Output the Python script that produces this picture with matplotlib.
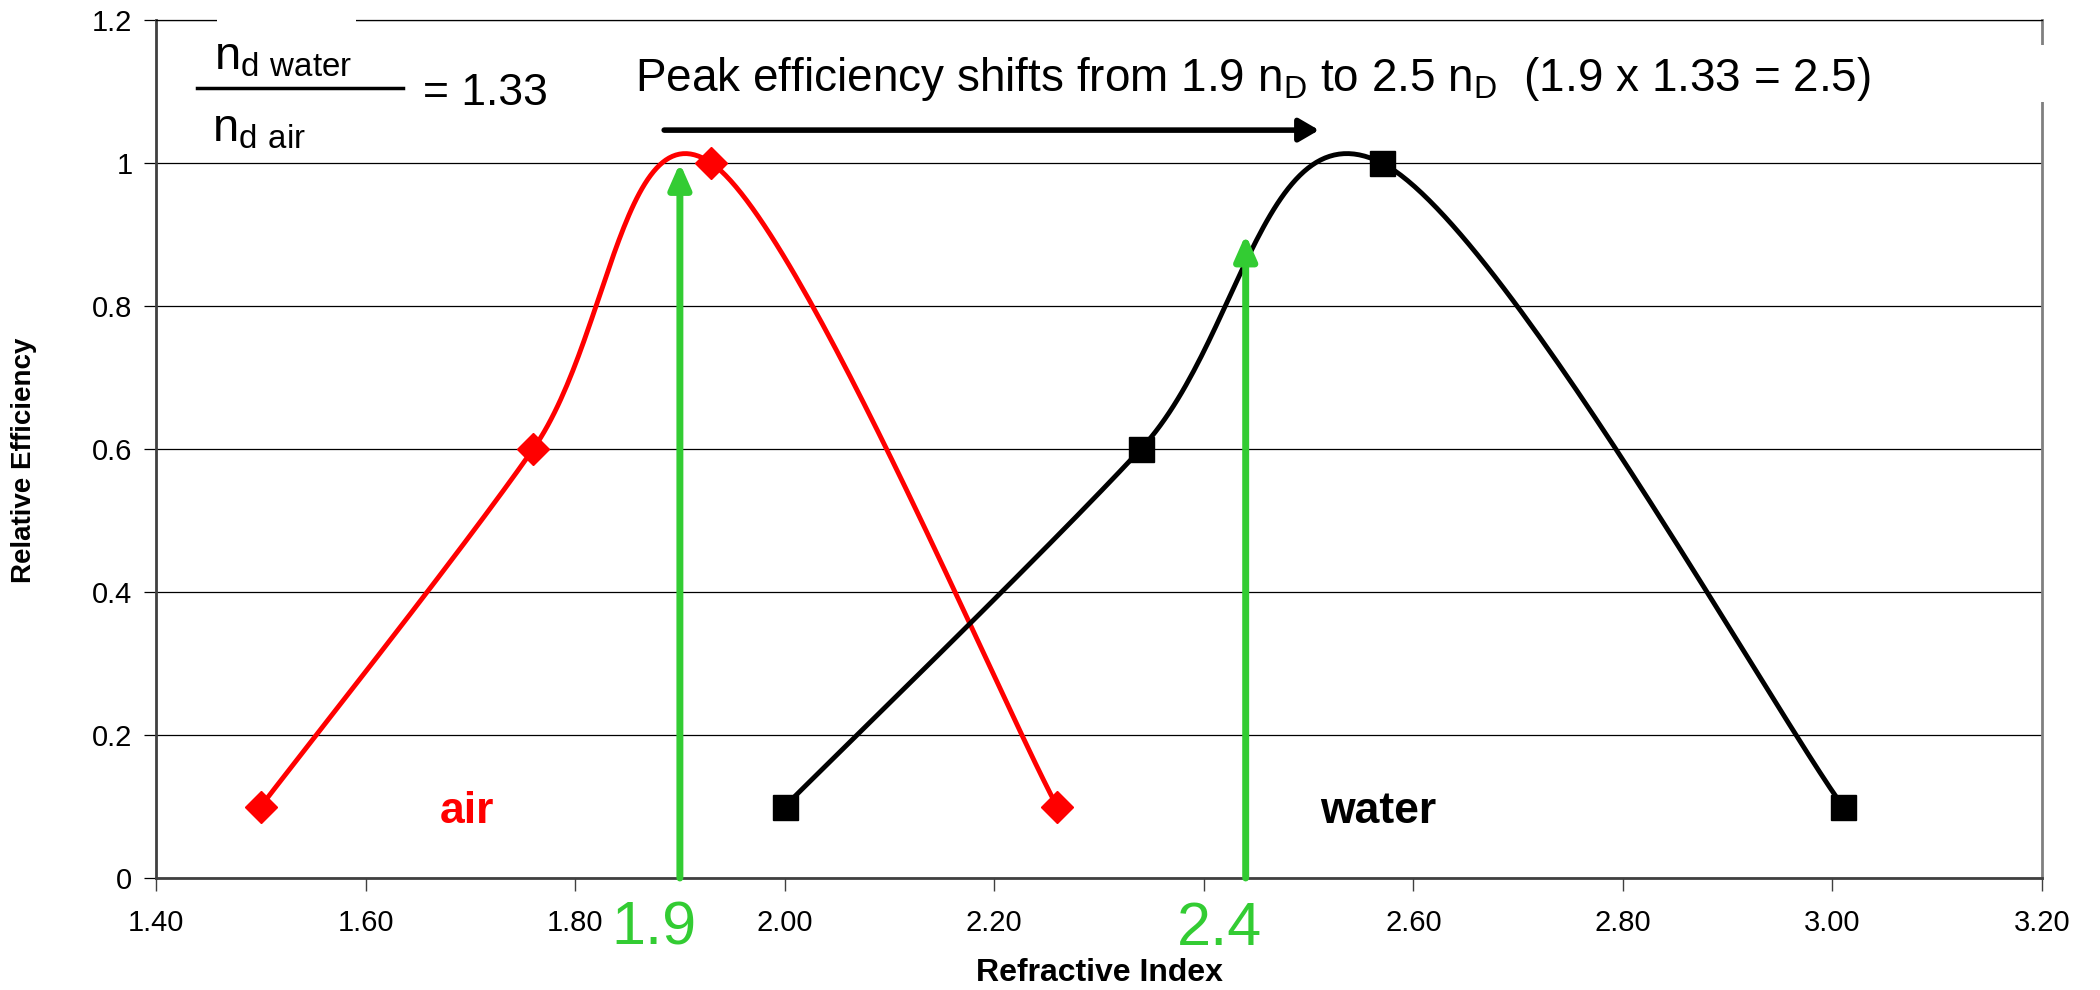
"""
Relative efficiency vs refractive index, air and water curves.
"""
import numpy as np
import matplotlib
matplotlib.use("Agg")
import matplotlib.pyplot as plt
from matplotlib.patches import Rectangle

# Series values
air_x = [1.50, 1.76, 1.93, 2.26]
air_y = [0.1, 0.6, 1.0, 0.1]
water_x = [2.00, 2.34, 2.57, 3.01]
water_y = [0.1, 0.6, 1.0, 0.1]

# Green peak arrows and their labels
peak_x = [1.90, 2.44]
peak_y = [1.0, 0.9]
peak_labels = ["1.9", "2.4"]

x_ticks = [1.40, 1.60, 1.80, 2.00, 2.20, 2.40, 2.60, 2.80, 3.00, 3.20]
x_ticklabels = ["1.40", "1.60", "1.80", "2.00", "2.20", "", "2.60", "2.80", "3.00", "3.20"]	# 2.40 sits under the green "2.4"
y_ticks = [0, 0.2, 0.4, 0.6, 0.8, 1.0, 1.2]
y_ticklabels = ["0", "0.2", "0.4", "0.6", "0.8", "1", "1.2"]

plt.rcParams['font.family'] = ['Liberation Sans', 'DejaVu Sans']
plt.rcParams['mathtext.fontset'] = 'custom'
plt.rcParams['mathtext.rm'] = 'Liberation Sans'


def smooth(xs, ys, n=60):
	"""Excel style smoothed line (Catmull-Rom as cubic Bezier)."""
	p = np.column_stack([xs, ys]).astype(float)
	p = np.vstack([p[0], p, p[-1]])
	t = np.linspace(0, 1, n)[:, None]
	segs = []
	for i in range(1, len(p) - 2):
		p0, p1, p2, p3 = p[i - 1], p[i], p[i + 1], p[i + 2]
		c1 = p1 + (p2 - p0) / 6
		c2 = p2 - (p3 - p1) / 6
		segs.append((1 - t)**3 * p1 + 3 * (1 - t)**2 * t * c1 + 3 * (1 - t) * t**2 * c2 + t**3 * p2)
	return np.vstack(segs)


fig = plt.figure(figsize=(21, 9.9), dpi=100)
ax = fig.add_axes([156 / 2100, 1 - 878 / 990, 1886 / 2100, 858 / 990])

# curves
a = smooth(air_x, air_y)
w = smooth(water_x, water_y)
ax.plot(a[:, 0], a[:, 1], color='red', lw=3.5, zorder=4)
ax.plot(air_x, air_y, 'D', color='red', ms=16, zorder=5)
ax.plot(w[:, 0], w[:, 1], color='black', lw=3.5, zorder=4)
ax.plot(water_x, water_y, 's', color='black', ms=18, zorder=5)

# green arrows + labels
for px, py, lab in zip(peak_x, peak_y, peak_labels):
	ax.annotate("", xy=(px, py), xytext=(px, 0),
		arrowprops=dict(arrowstyle="-|>,head_length=0.75,head_width=0.33", color='#33cc33',
			lw=5, mutation_scale=20, shrinkA=0, shrinkB=0), zorder=6)
	ax.text(px - 0.025, -0.072, lab, color='#33cc33', fontsize=44,
		ha='center', va='center', zorder=7, clip_on=False,
		bbox=dict(facecolor='white', edgecolor='none', pad=1))

# black shift arrow
ax.annotate("", xy=(2.51, 1.046), xytext=(1.885, 1.046),
	arrowprops=dict(arrowstyle="-|>,head_length=0.6,head_width=0.35", color='black',
		lw=4, mutation_scale=20, shrinkA=0, shrinkB=0), zorder=6)

ax.text(2.447, 1.118, r"Peak efficiency shifts from 1.9 n$_\mathregular{D}$ to 2.5 n$_\mathregular{D}$  (1.9 x 1.33 = 2.5)",
	fontsize=33, ha='center', va='center', zorder=7)

# ratio box top left
ax.add_patch(Rectangle((1.458, 1.18), 0.133, 0.04, facecolor='white', edgecolor='none', clip_on=False, zorder=3))
ax.add_patch(Rectangle((3.185, 1.085), 0.03, 0.08, facecolor='white', edgecolor='none', clip_on=False, zorder=3))
ax.text(1.455, 1.147, r"n$_\mathregular{d\ water}$", fontsize=34, ha='left', va='center', zorder=7)
ax.text(1.453, 1.047, r"n$_\mathregular{d\ air}$", fontsize=34, ha='left', va='center', zorder=7)
ax.plot([1.439, 1.636], [1.105, 1.105], color='black', lw=2.5, clip_on=False, zorder=7)
ax.text(1.655, 1.097, "= 1.33", fontsize=32, ha='left', va='center', zorder=7)

ax.text(1.697, 0.093, "air", color='red', fontsize=32, fontweight='bold', ha='center', va='center')
ax.text(2.566, 0.093, "water", color='black', fontsize=32, fontweight='bold', ha='center', va='center')

# axes styling
ax.set_xlim(1.4, 3.2)
ax.set_ylim(0, 1.2)
ax.set_xticks(x_ticks)
ax.set_xticklabels(x_ticklabels)
ax.set_yticks(y_ticks)
ax.set_yticklabels(y_ticklabels)
ax.grid(axis='y', color='black', lw=0.9)
ax.set_axisbelow(True)
ax.tick_params(axis='x', direction='out', length=9, width=1, colors='#404040', labelcolor='black', labelsize=21, pad=13)
ax.tick_params(axis='y', direction='out', length=9, width=0.9, colors='black', labelsize=21, pad=8)
for s in ['left', 'bottom']:
	ax.spines[s].set_color('#404040')
	ax.spines[s].set_linewidth(2)
ax.spines['right'].set_color('#808080')
ax.spines['right'].set_linewidth(2)
ax.spines['top'].set_color('black')
ax.spines['top'].set_linewidth(0.9)

fig.text(24 / 2100, 1 - 460 / 990, "Relative Efficiency", rotation=90, fontsize=20, fontweight='bold', ha='center', va='center')
fig.text(1099 / 2100, 1 - 973 / 990, "Refractive Index", fontsize=23, fontweight='bold', ha='center', va='center')

fig.savefig("out.png", dpi=100)
